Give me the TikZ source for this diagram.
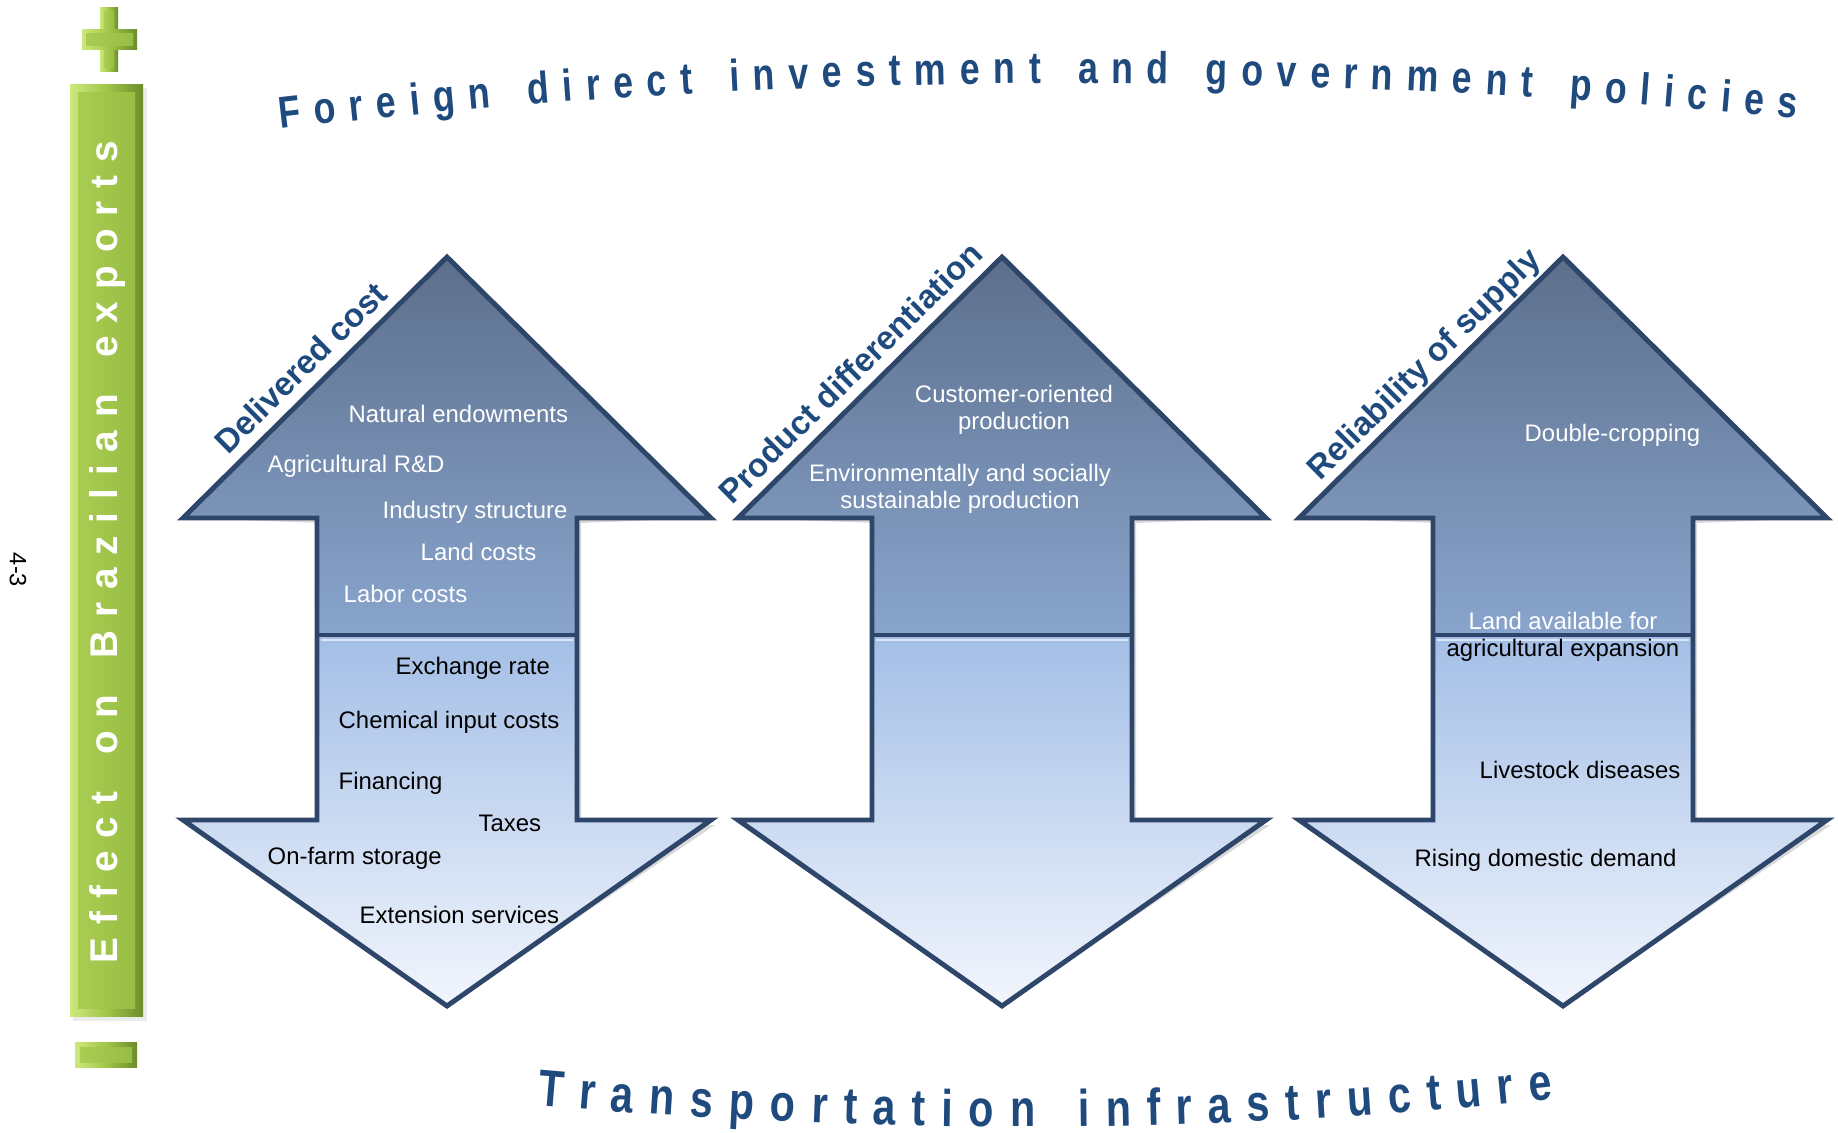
\documentclass[tikz,border=0pt]{standalone}
\usepackage{fontspec}
\setmainfont{Liberation Sans}
\newfontfamily\archfont[FakeStretch=0.8]{Liberation Sans}
\usetikzlibrary{decorations.text}

\definecolor{titleblue}{RGB}{31,74,126}
\definecolor{edgeblue}{RGB}{45,70,105}
\definecolor{upper1}{RGB}{92,111,140}
\definecolor{upper2}{RGB}{137,165,205}
\definecolor{lower1}{RGB}{163,190,230}
\definecolor{lower2}{RGB}{242,246,253}
\definecolor{barlight}{RGB}{205,232,125}
\definecolor{barmid}{RGB}{160,198,72}
\definecolor{bardark}{RGB}{108,140,44}

\begin{document}
\begin{tikzpicture}[x=0.01cm, y=-0.01cm,
  itemlight/.style={font=\fontsize{6.8}{7.7}\selectfont, text=white, inner sep=0pt, anchor=base west},
  itemdark/.style={itemlight, text=black},
  catlabel/.style={sloped, above, font=\bfseries\fontsize{9.4}{11}\selectfont, text=titleblue},
  arrowedge/.style={draw=edgeblue, line width=1.4pt, line join=miter},
  greenface/.style={left color=barlight, right color=bardark, middle color=barmid},
  greeninner/.style={left color=barmid!80!barlight, right color=barmid!85!bardark}]
    \useasboundingbox (0,0) rectangle (1838,1133);

    % green effect bar with plus and minus
    \fill[black, opacity=.08] (73,88) rectangle (147,1021);
    \shade[greenface] (70,84) rectangle (143,1016);
    \shade[greeninner] (78,92) rectangle (135,1008);
    \shade[greenface] (100,7) rectangle (118,71);
    \shade[greenface] (82,29) rectangle (137,49);
    \shade[greeninner] (104,11) rectangle (114,67);
    \shade[greeninner] (86,33) rectangle (133,45);
    \shade[greenface] (75,1042) rectangle (137,1067);
    \shade[greeninner] (80,1047) rectangle (132,1062);
    \path[decorate, decoration={text along path, text align={fit to path},
        text={|\bfseries\fontsize{11}{13}\selectfont\color{white}|Effect on Brazilian exports}}]
        (117,963) -- (117,141);

    \node[rotate=-90, font=\fontsize{6.7}{8}\selectfont] (pagenum) at (18,570) {4-3};

    % the three double arrows
    \foreach \cx/\nm in {447/cost, 1002/diff, 1563/supply}{
        \coordinate (\nm-tip) at (\cx,257);
        \coordinate (\nm-hl) at (\cx-264,518);
        \coordinate (\nm-hr) at (\cx+264,518);
        \coordinate (\nm-bot) at (\cx,1006);
        \fill[black, opacity=.15, shift={(4,5)}] (\nm-tip) -- (\nm-hr) -- (\cx+130,518) -- (\cx+130,820)
            -- (\cx+264,820) -- (\nm-bot) -- (\cx-264,820) -- (\cx-130,820) -- (\cx-130,518) -- (\nm-hl) -- cycle;
        \shade[top color=upper1, bottom color=upper2] (\nm-tip) -- (\nm-hr) -- (\cx+130,518) -- (\cx+130,635)
            -- (\cx-130,635) -- (\cx-130,518) -- (\nm-hl) -- cycle;
        \shade[top color=lower1, bottom color=lower2] (\cx-130,635) -- (\cx+130,635) -- (\cx+130,820)
            -- (\cx+264,820) -- (\nm-bot) -- (\cx-264,820) -- (\cx-130,820) -- cycle;
        \draw[arrowedge] (\nm-tip) -- (\nm-hr) -- (\cx+130,518) -- (\cx+130,820)
            -- (\cx+264,820) -- (\nm-bot) -- (\cx-264,820) -- (\cx-130,820) -- (\cx-130,518) -- (\nm-hl) -- cycle;
        \draw[arrowedge] (\cx-130,635) -- (\cx+130,635);
        \draw[white, opacity=.6, line width=.8pt] (\cx-126,640) -- (\cx+126,640);
    }

    % category labels
    \path (cost-hl) -- (cost-tip) node[catlabel, pos=.51] (costlabel) {Delivered cost};
    \path (diff-hl) -- (diff-tip) node[catlabel, pos=.49] (difflabel) {Product differentiation};
    \path (supply-hl) -- (supply-tip) node[catlabel, pos=.53, inner sep=1pt] (supplylabel) {Reliability of supply};

    % delivered cost
    \node[itemlight] (natural) at (348,422) {Natural endowments};
    \node[itemlight] (research) at (267,472) {Agricultural R\&D};
    \node[itemlight] (industry) at (382,518) {Industry structure};
    \node[itemlight] (land) at (420,560) {Land costs};
    \node[itemlight] (labor) at (343,602) {Labor costs};
    \node[itemdark] (exchange) at (395,674) {Exchange rate};
    \node[itemdark] (chemical) at (338,728) {Chemical input costs};
    \node[itemdark] (financing) at (338,789) {Financing};
    \node[itemdark] (taxes) at (478,831) {Taxes};
    \node[itemdark] (storage) at (267,864) {On-farm storage};
    \node[itemdark] (extension) at (359,923) {Extension services};

    % product differentiation
    \node[itemlight, anchor=center, align=center] (customer) at (1014,410) {Customer-oriented\\production};
    \node[itemlight, anchor=center, align=center] (sustain) at (960,489) {Environmentally and socially\\sustainable production};

    % reliability of supply
    \node[itemlight] (double) at (1524,441) {Double-cropping};
    \node[itemlight, anchor=base] (landfor) at (1563,629) {Land available for};
    \node[itemdark, anchor=base] (expansion) at (1563,656) {agricultural expansion};
    \node[itemdark] (livestock) at (1479,778) {Livestock diseases};
    \node[itemdark] (demand) at (1414,866) {Rising domestic demand};

    % arched titles
    \path[decorate, decoration={text along path, text align={fit to path},
        text={|\archfont\bfseries\fontsize{12.7}{14}\selectfont\color{titleblue}|Foreign direct investment and government policies}}]
        (280,129) .. controls (785,70) and (1290,70) .. (1795,118);
    \path[decorate, decoration={text along path, text align={fit to path},
        text={|\archfont\bfseries\fontsize{14.7}{16}\selectfont\color{titleblue}|Transportation infrastructure}}]
        (537,1105) .. controls (876,1135) and (1214,1135) .. (1553,1099);
\end{tikzpicture}
\end{document}
